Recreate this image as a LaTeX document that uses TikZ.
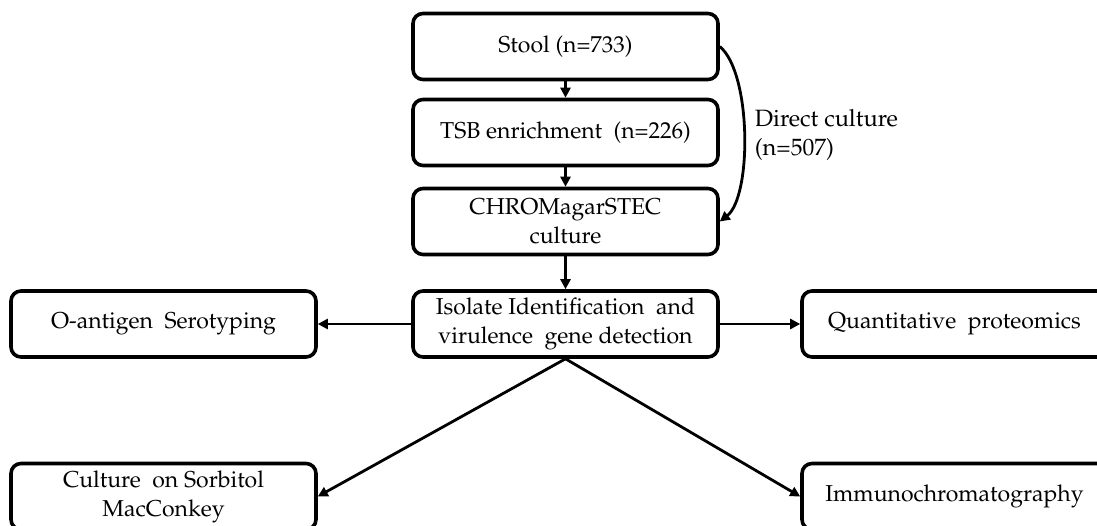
\documentclass[tikz,border=0pt]{standalone}
\usepackage[T1]{fontenc}
\usepackage{mathpazo}
\usetikzlibrary{arrows.meta,positioning}

\begin{document}
\begin{tikzpicture}[x=0.5pt,y=-0.5pt,
  stepbox/.style={draw,rounded corners=5pt,line width=1.8pt,minimum width=152.5pt,
    minimum height=33pt,align=center,inner sep=2pt,font=\fontsize{11.5}{14.5}\selectfont},
  flow/.style={line width=1.4pt,-{Triangle[length=5pt,width=5pt]}}]
\clip (0,0) rectangle (1097,525);
% main column
\node[stepbox](stool) at (565.5,46.5){Stool (n=733)};
\node[stepbox](tsb) at (565.5,132.5){TSB enrichment\ \ (n=226)};
\node[stepbox](chrom) at (565.5,221.5){CHROMagarSTEC\\culture};
\node[stepbox](isolate) at (565.5,324){Isolate Identification\ \ and\\virulence\ \ gene detection};
% side branches
\node[stepbox](sero) at (163.5,324){O-antigen\ \ Serotyping};
\node[stepbox](prot) at (954.5,324){Quantitative\ \ proteomics};
\node[stepbox](smac) at (163.5,496.5){Culture\ \ on Sorbitol\\MacConkey};
\node[stepbox](immuno) at (954.5,496.5){Immunochromatography};
% connectors
\draw[flow](stool)--(tsb);
\draw[flow](tsb)--(chrom);
\draw[flow](chrom)--(isolate);
\draw[flow](stool.east) .. controls +(32,27) and +(32,-25) .. (chrom.east)
  node[pos=0.5,anchor=west,align=left,xshift=1.5pt,font=\fontsize{11.8}{14.5}\selectfont]{Direct culture\\(n=507)};
\draw[flow](isolate.west)--(sero.east);
\draw[flow](isolate.east)--(prot.west);
\draw[flow](isolate.south)--(smac.east);
\draw[flow](isolate.south)--(immuno.west);
\end{tikzpicture}
\end{document}
